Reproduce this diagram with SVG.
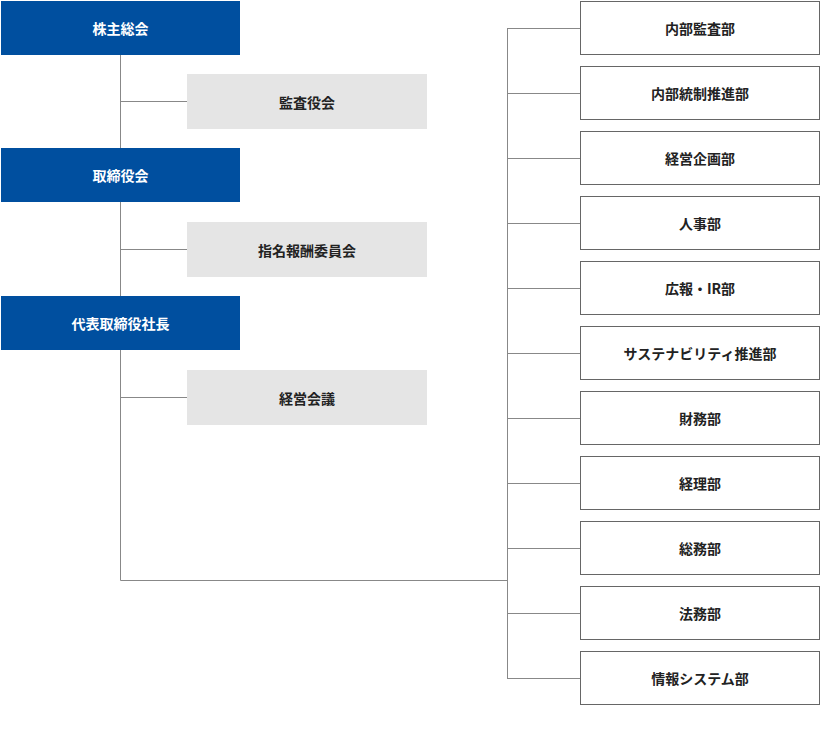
<svg xmlns="http://www.w3.org/2000/svg" width="821" height="730" viewBox="0 0 821 730">
<style>
.b{fill:#004f9f}.g{fill:#e5e5e5}.w{fill:#fff;stroke:#666;stroke-width:1}
text{font-family:"Noto Sans CJK JP",sans-serif;font-size:14px;font-weight:bold;text-anchor:middle;dominant-baseline:central}
.bt{fill:#fff}.dt{fill:#222}
#conn path{fill:none;stroke:#888;stroke-width:1}
</style>
<rect width="821" height="730" fill="#fff"/>
<g id="conn"><path d="M120.5 54V580.5H507.5M120.5 101.5H187M120.5 249.5H187M120.5 397.5H187M507.5 28.5V678.5M507 28.5H580M507 93.5H580M507 158.5H580M507 223.5H580M507 288.5H580M507 353.5H580M507 418.5H580M507 483.5H580M507 548.5H580M507 613.5H580M507 678.5H580"/></g>
<g id="n1"><rect class="b" x="1" y="1" width="239" height="54"/><text class="bt" x="120.5" y="28">株主総会</text></g>
<g id="n2"><rect class="b" x="1" y="148" width="239" height="54"/><text class="bt" x="120.5" y="175">取締役会</text></g>
<g id="n3"><rect class="b" x="1" y="296" width="239" height="54"/><text class="bt" x="120.5" y="323">代表取締役社長</text></g>
<g id="g1"><rect class="g" x="187" y="74" width="240" height="55"/><text class="dt" x="307" y="101.5">監査役会</text></g>
<g id="g2"><rect class="g" x="187" y="222" width="240" height="55"/><text class="dt" x="307" y="249.5">指名報酬委員会</text></g>
<g id="g3"><rect class="g" x="187" y="370" width="240" height="55"/><text class="dt" x="307" y="397.5">経営会議</text></g>
<g id="r1"><rect class="w" x="580.5" y="1.5" width="239" height="53"/><text class="dt" x="700" y="28">内部監査部</text></g>
<g id="r2"><rect class="w" x="580.5" y="66.5" width="239" height="53"/><text class="dt" x="700" y="93">内部統制推進部</text></g>
<g id="r3"><rect class="w" x="580.5" y="131.5" width="239" height="53"/><text class="dt" x="700" y="158">経営企画部</text></g>
<g id="r4"><rect class="w" x="580.5" y="196.5" width="239" height="53"/><text class="dt" x="700" y="223">人事部</text></g>
<g id="r5"><rect class="w" x="580.5" y="261.5" width="239" height="53"/><text class="dt" x="700" y="288">広報・IR部</text></g>
<g id="r6"><rect class="w" x="580.5" y="326.5" width="239" height="53"/><text class="dt" x="700" y="353">サステナビリティ推進部</text></g>
<g id="r7"><rect class="w" x="580.5" y="391.5" width="239" height="53"/><text class="dt" x="700" y="418">財務部</text></g>
<g id="r8"><rect class="w" x="580.5" y="456.5" width="239" height="53"/><text class="dt" x="700" y="483">経理部</text></g>
<g id="r9"><rect class="w" x="580.5" y="521.5" width="239" height="53"/><text class="dt" x="700" y="548">総務部</text></g>
<g id="r10"><rect class="w" x="580.5" y="586.5" width="239" height="53"/><text class="dt" x="700" y="613">法務部</text></g>
<g id="r11"><rect class="w" x="580.5" y="651.5" width="239" height="53"/><text class="dt" x="700" y="678">情報システム部</text></g>
</svg>
